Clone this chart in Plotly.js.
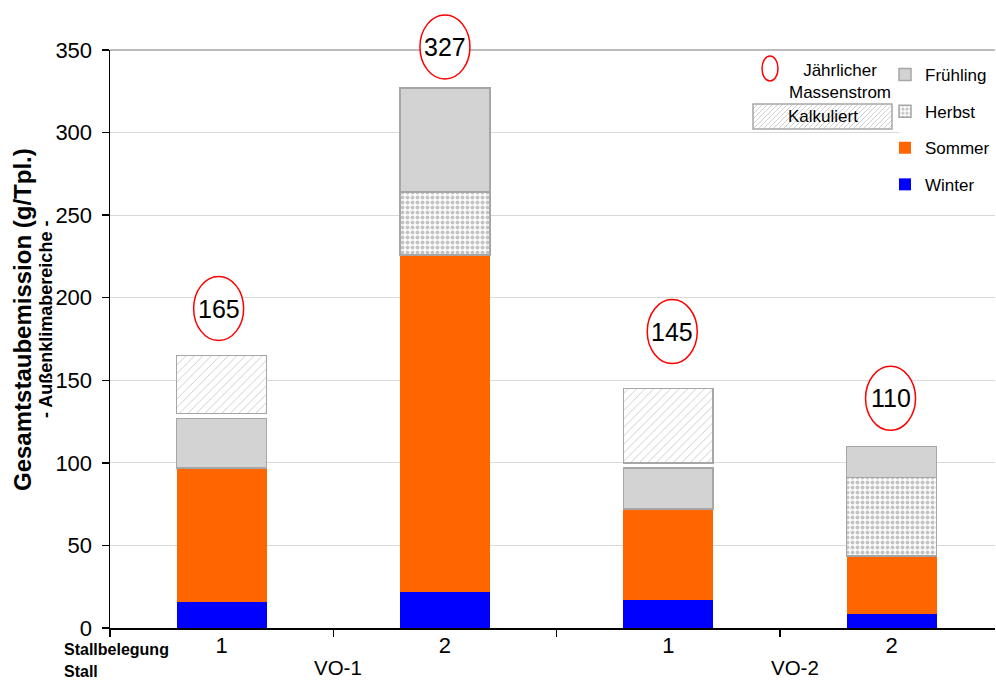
<!DOCTYPE html>
<html><head><meta charset="utf-8">
<script src="https://cdn.plot.ly/plotly-3.0.1.min.js"></script>
<style>html,body{margin:0;padding:0;background:#fff}#chart{width:996px;height:681px}</style>
</head><body><div id="chart"></div>
<script>
// ---- data ----
const stallbelegung = ["1", "2", "1", "2"];
const stall = ["VO-1", "VO-1", "VO-2", "VO-2"];
const winter    = [16, 22, 17, 8.5];
const sommer    = [81, 204, 55, 35];
const herbst    = [null, 38, null, 47.5];
const fruehling = [30, 63, 25, 19];
const kalkuliertBase = [130, null, 100, null];
const jahresMassenstrom = [165, 327, 145, 110];
const yTickVals = [0, 50, 100, 150, 200, 250, 300, 350];

// ---- derived ----
const idx = stallbelegung.map((_, i) => i);
const kalkuliert = jahresMassenstrom.map((t, i) => kalkuliertBase[i] == null ? null : t - kalkuliertBase[i]);
const groups = [...new Set(stall)];
const groupPos = groups.map(g => {
  const ii = idx.filter(i => stall[i] === g);
  return ii.reduce((a, b) => a + b, 0) / ii.length;
});
const yRange = [0, 350];
const yFrac = v => (v - yRange[0]) / (yRange[1] - yRange[0]);

// ---- style ----
const FONT = "Liberation Sans, Arial, sans-serif";
const grayLine = '#a6a6a6';
const barW = 0.403;
const labelDy = [47, 41, 57, 48];
const labelDx = [-3, 0, 4, -1];
const groupDx = [5, 15];

const common = {type: 'bar', x: idx, width: barW, hoverinfo: 'skip'};
const traces = [
  Object.assign({}, common, {name: 'Winter', y: winter, legendgroup: 'w', legendrank: 4,
    marker: {color: '#0000ff', line: {width: 0}}}),
  Object.assign({}, common, {name: 'Sommer', y: sommer, legendgroup: 's', legendrank: 3,
    marker: {color: '#ff6600', line: {width: 0}}}),
  Object.assign({}, common, {name: 'Herbst', y: herbst, legendgroup: 'h', legendrank: 2,
    marker: {color: '#ffffff', pattern: {shape: '.', fgcolor: '#c4c4c4', bgcolor: '#ffffff', size: 5, solidity: 0.5},
      line: {color: grayLine, width: 1.5}}}),
  Object.assign({}, common, {name: 'Frühling', y: fruehling, legendgroup: 'f', legendrank: 1,
    marker: {color: '#d3d3d3', line: {color: grayLine, width: 1.5}}}),
  Object.assign({}, common, {name: 'Kalkuliert', y: kalkuliert, base: kalkuliertBase, showlegend: false,
    marker: {color: '#ffffff', pattern: {shape: '/', fgcolor: '#cacaca', bgcolor: '#ffffff', size: 6, solidity: 0.15},
      line: {color: grayLine, width: 1.5}}})
];

const W = 996, H = 681, mL = 110, mR = 1, mT = 50, mB = 53;
const pw = W - mL - mR, ph = H - mT - mB;
const px2x = p => (p - mL) / pw;
const py2y = p => (H - mB - p) / ph;
const catW = 223.3;

// hatch for legend box
const boxW = 139, boxH = 25;
let hatch = '';
for (let k = -boxH; k < boxW; k += 5) {
  const sx = Math.max(k, 0), ex = Math.min(k + boxH, boxW);
  if (sx < ex) hatch += `M${sx},${sx - k}L${ex},${ex - k}`;
}

const shapes = [
  {type: 'line', xref: 'paper', yref: 'paper', x0: 0, x1: 1, y0: 1, y1: 1, line: {color: grayLine, width: 1.5}, layer: 'above'},
  // white area behind the series legend
  {type: 'rect', xref: 'paper', yref: 'paper', x0: px2x(899), x1: 1, y0: py2y(200), y1: py2y(58),
   line: {width: 0}, fillcolor: '#ffffff', layer: 'above'}
];
jahresMassenstrom.forEach((v, i) => shapes.push({
  type: 'circle', xref: 'x', yref: 'paper', xsizemode: 'pixel', ysizemode: 'pixel',
  xanchor: i, yanchor: yFrac(v), x0: labelDx[i] - 25, x1: labelDx[i] + 25, y0: labelDy[i] - 32, y1: labelDy[i] + 32,
  line: {color: '#ff0000', width: 1.5}, fillcolor: '#ffffff', layer: 'above'
}));
// manual legend: ellipse + Kalkuliert box
shapes.push({type: 'circle', xref: 'paper', yref: 'paper', xsizemode: 'pixel', ysizemode: 'pixel',
  xanchor: px2x(770), yanchor: py2y(68.5), x0: -8, x1: 8, y0: -12.5, y1: 12.5,
  line: {color: '#ff0000', width: 1.5}, fillcolor: '#ffffff', layer: 'above'});
shapes.push({type: 'rect', xref: 'paper', yref: 'paper', xsizemode: 'pixel', ysizemode: 'pixel',
  xanchor: px2x(753), yanchor: py2y(129), x0: 0, x1: boxW, y0: 0, y1: boxH,
  line: {width: 0}, fillcolor: '#ffffff', layer: 'above'});
shapes.push({type: 'path', xref: 'paper', yref: 'paper', xsizemode: 'pixel', ysizemode: 'pixel',
  xanchor: px2x(753), yanchor: py2y(129), path: hatch,
  line: {color: '#cfcfcf', width: 1}, layer: 'above'});
shapes.push({type: 'rect', xref: 'paper', yref: 'paper', xsizemode: 'pixel', ysizemode: 'pixel',
  xanchor: px2x(753), yanchor: py2y(129), x0: 0, x1: boxW, y0: 0, y1: boxH,
  line: {color: grayLine, width: 1.5}, fillcolor: 'rgba(0,0,0,0)', layer: 'above'});

const ann = (o) => Object.assign({showarrow: false, xanchor: 'center', yanchor: 'middle', borderpad: 0}, o);
const annotations = [];
jahresMassenstrom.forEach((v, i) => annotations.push(ann({
  x: i, y: v, xref: 'x', yref: 'y', text: String(v),
  xshift: labelDx[i], yshift: labelDy[i], font: {family: FONT, size: 25, color: '#000'}
})));
groups.forEach((g, j) => annotations.push(ann({
  x: groupPos[j], y: py2y(667.5), xref: 'x', yref: 'paper', text: g,
  xshift: groupDx[j], font: {family: FONT, size: 20.5, color: '#000'}
})));
annotations.push(ann({x: px2x(63), y: py2y(649), xref: 'paper', yref: 'paper', xanchor: 'left',
  text: '<b>Stallbelegung</b>', font: {family: FONT, size: 16, color: '#000'}}));
annotations.push(ann({x: px2x(63), y: py2y(671), xref: 'paper', yref: 'paper', xanchor: 'left',
  text: '<b>Stall</b>', font: {family: FONT, size: 16, color: '#000'}}));
annotations.push(ann({x: px2x(22), y: py2y(320), xref: 'paper', yref: 'paper', textangle: -90,
  text: '<b>Gesamtstaubemission (g/Tpl.)</b>', font: {family: FONT, size: 24, color: '#000'}}));
annotations.push(ann({x: px2x(46), y: py2y(320), xref: 'paper', yref: 'paper', textangle: -90,
  text: '<b>- Außenklimabereiche -</b>', font: {family: FONT, size: 18, color: '#000'}}));
annotations.push(ann({x: px2x(840), y: py2y(82), xref: 'paper', yref: 'paper',
  text: 'Jährlicher<br>Massenstrom', font: {family: FONT, size: 17, color: '#000'}}));
annotations.push(ann({x: px2x(822.5), y: py2y(116.5), xref: 'paper', yref: 'paper',
  text: 'Kalkuliert', font: {family: FONT, size: 17, color: '#000'}}));

const layout = {
  width: W, height: H,
  margin: {l: mL, r: mR, t: mT, b: mB, pad: 0},
  paper_bgcolor: '#ffffff', plot_bgcolor: '#ffffff',
  font: {family: FONT, color: '#000'},
  barmode: 'stack',
  hovermode: false,
  showlegend: true,
  legend: {
    x: 1, y: py2y(57), xanchor: 'right', yanchor: 'top',
    bgcolor: 'rgba(0,0,0,0)', borderwidth: 0,
    traceorder: 'grouped', tracegroupgap: 11.5,
    font: {family: FONT, size: 17, color: '#000'}, itemwidth: 30
  },
  xaxis: {
    range: [-0.5, -0.5 + pw / catW], tickmode: 'array', tickvals: idx, ticktext: stallbelegung,
    ticks: '', showgrid: false, zeroline: false, showline: true, linecolor: '#000', linewidth: 1.5,
    tickfont: {family: FONT, size: 22, color: '#000'}, ticklabelstandoff: -3,
    minor: {tickmode: 'array', tickvals: idx.map(i => i - 0.5), ticks: 'outside', ticklen: 7, tickwidth: 1.5, tickcolor: '#000', showgrid: false},
    fixedrange: true
  },
  yaxis: {
    range: yRange, tickmode: 'array', tickvals: yTickVals,
    ticks: 'outside', ticklen: 7, tickwidth: 1.5, tickcolor: '#000',
    showline: true, linecolor: '#000', linewidth: 1.5,
    showgrid: true, gridcolor: '#d9d9d9', gridwidth: 1, zeroline: false,
    tickfont: {family: FONT, size: 22, color: '#000'}, ticklabelstandoff: 5, fixedrange: true
  },
  shapes: shapes,
  annotations: annotations
};

Plotly.newPlot('chart', traces, layout, {displayModeBar: false, staticPlot: true});
</script>
</body></html>
